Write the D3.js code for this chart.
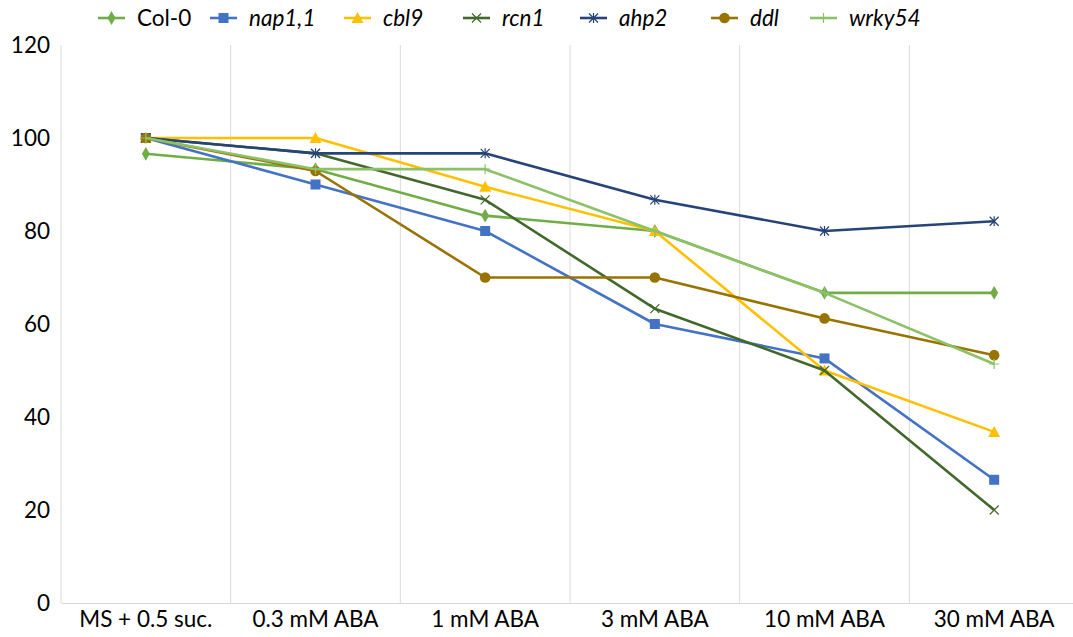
<!DOCTYPE html>
<html>
<head>
<meta charset="utf-8">
<script src="https://cdn.jsdelivr.net/npm/d3@7"></script>
<style>
  body { margin: 0; background: #fff; }
  svg text { font-family: Lato, "Noto Sans", sans-serif; fill: #000; }
</style>
</head>
<body>
<svg id="chart" width="1073" height="637"></svg>
<script>
// Germination (%) on MS + sucrose with increasing ABA
const categories = ["MS + 0.5 suc.", "0.3 mM ABA", "1 mM ABA", "3 mM ABA", "10 mM ABA", "30 mM ABA"];
const yTicks = [0, 20, 40, 60, 80, 100, 120];

const col0   = [96.6, 93.3, 83.3, 80.0, 66.7, 66.7];
const nap11  = [100, 90.0, 80.0, 60.0, 52.6, 26.5];
const cbl9   = [100, 100, 89.5, 80.0, 50.0, 36.8];
const rcn1   = [100, 96.7, 86.7, 63.3, 50.0, 20.0];
const ahp2   = [100, 96.7, 96.7, 86.7, 80.0, 82.1];
const ddl    = [100, 92.9, 70.0, 70.0, 61.2, 53.3];
const wrky54 = [100, 93.3, 93.3, 80.0, 66.7, 51.4];

const series = [
  { name: "Col-0",  italic: false, values: col0,   color: "#70AD47", marker: "diamond" },
  { name: "nap1,1", italic: true,  values: nap11,  color: "#4472C4", marker: "square" },
  { name: "cbl9",   italic: true,  values: cbl9,   color: "#FFC000", marker: "triangle" },
  { name: "rcn1",   italic: true,  values: rcn1,   color: "#43682B", marker: "x" },
  { name: "ahp2",   italic: true,  values: ahp2,   color: "#264478", marker: "star" },
  { name: "ddl",    italic: true,  values: ddl,    color: "#997300", marker: "circle" },
  { name: "wrky54", italic: true,  values: wrky54, color: "#8CC168", marker: "plus" }
];

const FONT = 22.5;
const svg = d3.select("#chart");
const plot = { left: 61, right: 1079, top: 45, bottom: 603 };

const x = d3.scaleBand().domain(categories).range([plot.left, plot.right]).padding(0);
const cx = c => x(c) + x.bandwidth() / 2;
const y = d3.scaleLinear().domain([0, 120]).range([plot.bottom, plot.top]);

// vertical gridlines at category boundaries
const grid = svg.append("g");
categories.forEach(c => {
  grid.append("line")
    .attr("x1", x(c)).attr("x2", x(c))
    .attr("y1", plot.top).attr("y2", plot.bottom)
    .attr("stroke", "#D9D9D9").attr("stroke-width", 1);
});

// x axis baseline and category labels
const xAxis = d3.axisBottom(x).tickSize(0).tickPadding(6);
const gx = svg.append("g").attr("transform", `translate(0,${plot.bottom})`).call(xAxis);
gx.select(".domain").attr("stroke", "#D9D9D9");
gx.selectAll("text").attr("font-size", FONT).attr("dy", "0.78em");

// y axis labels (no line)
const yAxis = d3.axisLeft(y).tickValues(yTicks).tickSize(0).tickPadding(11);
const gy = svg.append("g").attr("transform", `translate(${plot.left},0)`).call(yAxis);
gy.select(".domain").remove();
gy.selectAll("text").attr("font-size", FONT);

// marker drawing
function drawMarker(g, type, color, px, py) {
  const s = g.append("g").attr("transform", `translate(${px},${py})`);
  switch (type) {
    case "diamond":
      s.append("path").attr("d", d3.symbol(d3.symbolDiamond, 55)()).attr("fill", color);
      break;
    case "square":
      s.append("rect").attr("x", -5).attr("y", -5).attr("width", 10).attr("height", 10).attr("fill", color);
      break;
    case "triangle":
      s.append("path").attr("d", "M0,-6L6,5L-6,5Z").attr("fill", color);
      break;
    case "circle":
      s.append("circle").attr("r", 5.3).attr("fill", color);
      break;
    case "x":
      s.append("path").attr("d", "M-4.5,-4.5L4.5,4.5M-4.5,4.5L4.5,-4.5")
        .attr("stroke", color).attr("stroke-width", 1.2).attr("fill", "none");
      break;
    case "star":
      s.append("path").attr("d", "M-4.5,-4.5L4.5,4.5M-4.5,4.5L4.5,-4.5M0,-5L0,5")
        .attr("stroke", color).attr("stroke-width", 1.2).attr("fill", "none");
      break;
    case "plus":
      s.append("path").attr("d", "M-5,0L5,0M0,-5L0,5")
        .attr("stroke", color).attr("stroke-width", 1.2).attr("fill", "none");
      break;
  }
}

const line = d3.line().x((d, i) => cx(categories[i])).y(d => y(d));

series.forEach(s => {
  const g = svg.append("g");
  g.append("path").datum(s.values).attr("d", line)
    .attr("fill", "none").attr("stroke", s.color).attr("stroke-width", 2.6)
    .attr("stroke-linejoin", "round");
  s.values.forEach((v, i) => drawMarker(g, s.marker, s.color, cx(categories[i]), y(v)));
});

// legend
const legendX = [98, 210, 344, 463, 580, 711, 810];
const legend = svg.append("g");
series.forEach((s, i) => {
  const lx = legendX[i], ly = 18;
  legend.append("line").attr("x1", lx).attr("x2", lx + 27).attr("y1", ly).attr("y2", ly)
    .attr("stroke", s.color).attr("stroke-width", 2.6);
  drawMarker(legend, s.marker, s.color, lx + 13.5, ly);
  legend.append("text").attr("x", lx + 39).attr("y", ly).attr("dy", "0.35em")
    .attr("font-size", FONT).attr("font-style", s.italic ? "italic" : "normal")
    .text(s.name);
});
</script>
</body>
</html>
